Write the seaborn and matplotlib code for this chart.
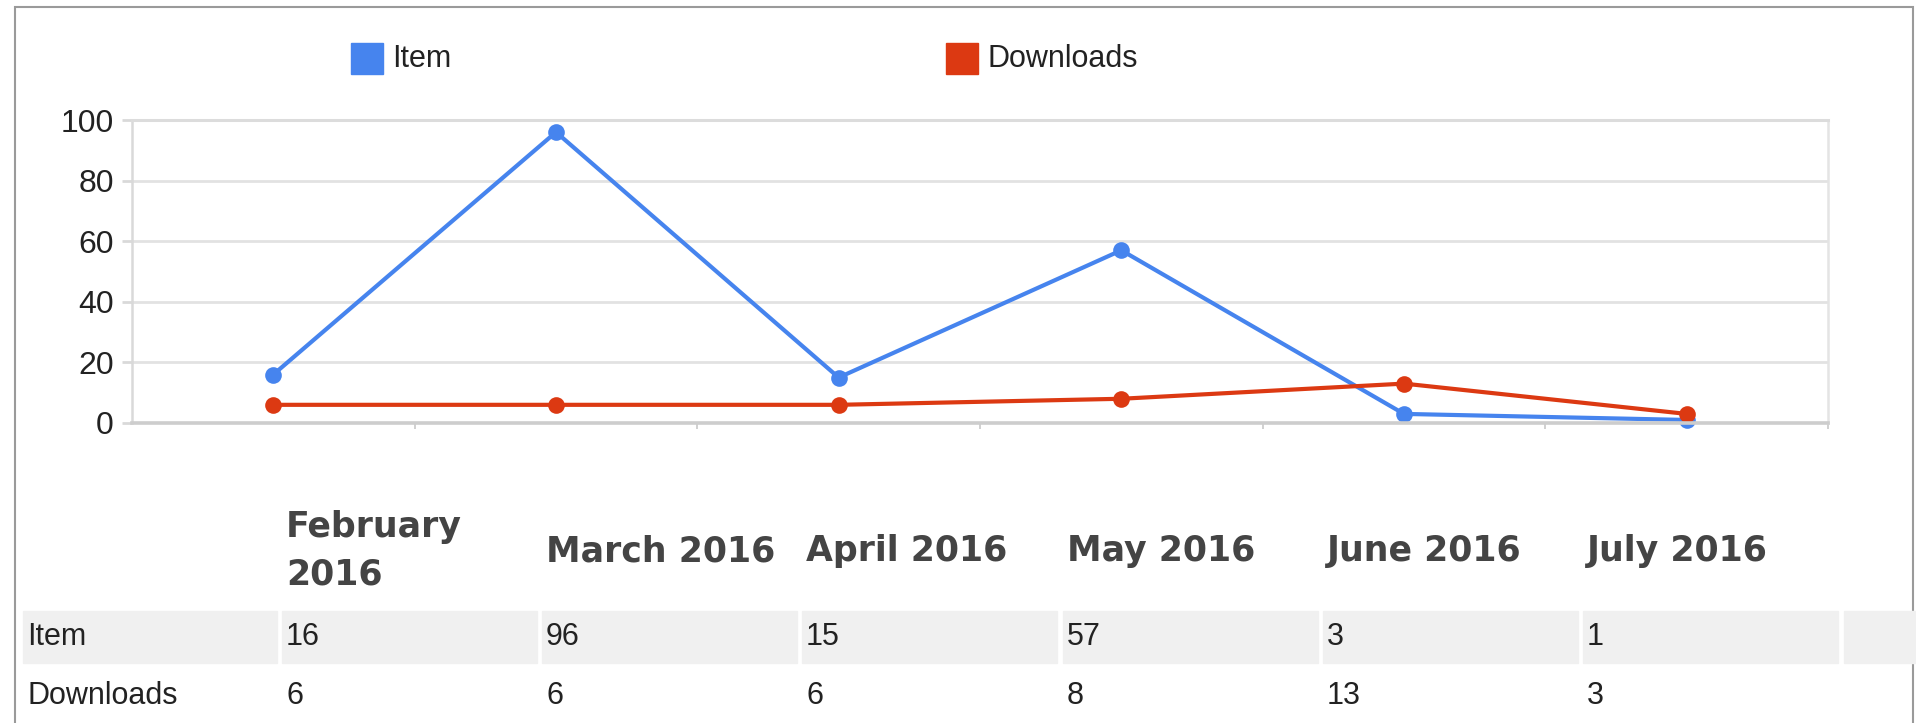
import numpy as np
import pandas as pd
import seaborn as sns
import matplotlib.pyplot as plt
from matplotlib.patches import Rectangle

months = ['February 2016', 'March 2016', 'April 2016', 'May 2016', 'June 2016', 'July 2016']
series_names = ['Item', 'Downloads']
item_values = [16, 96, 15, 57, 3, 1]
download_values = [6, 6, 6, 8, 13, 3]
series_colors = ['#4684ee', '#dc3912']
y_ticks = [0, 20, 40, 60, 80, 100]

W, H = 1916, 723

def fx(x):
    return x / W

def fy(y):
    return 1 - y / H

df = pd.DataFrame({
    'idx': list(range(len(months))) * 2,
    'value': item_values + download_values,
    'series': [series_names[0]] * len(months) + [series_names[1]] * len(months),
})

sns.set_style('white')
plt.rcParams['font.family'] = ['Liberation Sans', 'DejaVu Sans']

fig = plt.figure(figsize=(W / 100, H / 100), dpi=100)

# outer frame
fig.patches.append(Rectangle((fx(15), fy(800)), fx(1913) - fx(15), fy(7) - fy(800),
                             transform=fig.transFigure, fill=False,
                             edgecolor='#9a9a9a', lw=1.5, zorder=0))

ax = fig.add_axes([fx(132), fy(423), fx(1828) - fx(132), fy(120) - fy(423)])
sns.lineplot(
    data=df, x='idx', y='value', hue='series',
    hue_order=series_names, palette=series_colors,
    marker='o', markersize=12, markeredgewidth=0,
    linewidth=3.0, legend=False, ax=ax
)
for ln in ax.lines:
    ln.set_clip_on(False)

ax.set_xlim(-0.5, 5.5)
ax.set_ylim(0, 100)
ax.set_yticks(y_ticks)
ax.set_xticks(np.arange(0.5, 6, 1.0))
ax.set_xticklabels([])
ax.set_xlabel('')
ax.set_ylabel('')
ax.yaxis.grid(True, color='#e2e2e2', lw=2.0)
ax.set_axisbelow(True)
for side, col, lw in [('left', '#d9d9d9', 1.8), ('right', '#e4e4e4', 1.8),
                      ('top', '#dcdcdc', 2.2), ('bottom', '#cdcdcd', 2.6)]:
    ax.spines[side].set_visible(True)
    ax.spines[side].set_color(col)
    ax.spines[side].set_linewidth(lw)
ax.tick_params(axis='y', length=7, width=2.0, color='#d9d9d9', pad=6,
               labelsize=23, labelcolor='#222222', left=True)
ax.tick_params(axis='x', length=4, width=1.4, color='#d0d0d0', bottom=True)

# legend
legend_pos = [(351, 392), (946, 987)]
for name, col, (sx, tx) in zip(series_names, series_colors, legend_pos):
    fig.patches.append(Rectangle((fx(sx), fy(74)), fx(32), 31 / H,
                                 transform=fig.transFigure, color=col))
    fig.text(fx(tx), fy(59), name, fontsize=22, color='#222222', va='center', ha='left')

# data table below the chart
col_starts = [282, 542, 802, 1063, 1323, 1583]
cell_w = 255
for i, m in enumerate(months):
    label = m.replace(' ', '\n') if len(m) > 10 else m
    fig.text(fx(col_starts[i] + 4), fy(551), label, fontsize=25, fontweight='bold',
             family='DejaVu Sans', color='#444444', va='center', ha='left',
             linespacing=1.5)

# shaded first row
cells = [(23, 277)] + [(c, c + cell_w) for c in col_starts] + [(1844, 1930)]
for x0, x1 in cells:
    fig.patches.append(Rectangle((fx(x0), fy(663)), fx(x1 - x0), 52 / H,
                                 transform=fig.transFigure, color='#f0f0f0', zorder=0))

rows = [(series_names[0], item_values, 637), (series_names[1], download_values, 696)]
for name, vals, y in rows:
    fig.text(fx(27), fy(y), name, fontsize=22, color='#222222', va='center', ha='left')
    for c, v in zip(col_starts, vals):
        fig.text(fx(c + 4), fy(y), str(v), fontsize=22, color='#222222', va='center', ha='left')

fig.savefig('out.png', dpi=100, facecolor='white')
